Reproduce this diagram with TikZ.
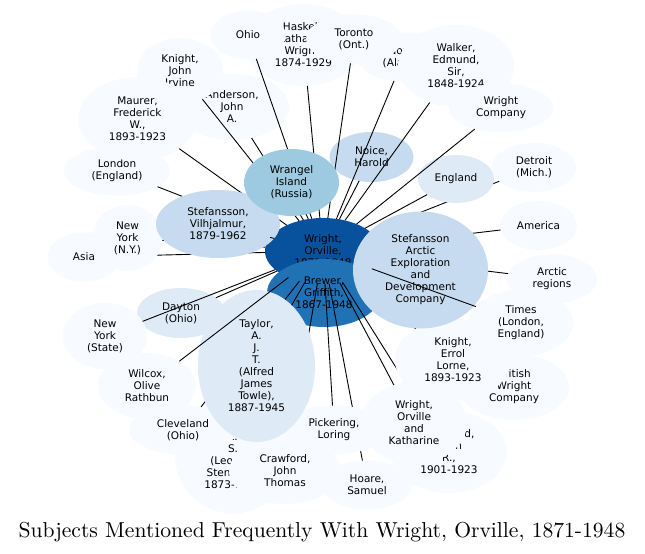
\documentclass[tikz,border=0pt]{standalone}
\usepackage{fontspec}
\newfontfamily\dvs{DejaVu Sans}
\usetikzlibrary{shapes.geometric}
\definecolor{bA}{HTML}{F7FBFF}
\definecolor{bB}{HTML}{DEEBF7}
\definecolor{bC}{HTML}{C6DBEF}
\definecolor{bD}{HTML}{9ECAE1}
\definecolor{bE}{HTML}{2171B5}
\definecolor{bF}{HTML}{08519C}
\tikzset{
 ell/.style={ellipse, draw=none, inner sep=0pt, outer sep=0pt},
 lbl/.style={align=center, inner sep=0pt, font=\dvs\fontsize{10.5}{12}\selectfont},
 edge/.style={draw=black, line width=0.9pt},
 ttl/.style={inner sep=0pt, font=\fontsize{10}{12}\selectfont},
}
\newcommand\sn[7]{%
 \node[ell, fill=#6, minimum width={2*#4*1pt}, minimum height={2*#5*1pt}] (#1) at (#2,#3) {};
 \node[lbl] (#1-t) at (#1.center) {#7};
}
\begin{document}
\begin{tikzpicture}[x=1pt,y=-1pt]
\fill[white] (0,0) rectangle (645,554);
\useasboundingbox (0,0) rectangle (645,554);
\sn{c}{323}{251}{58}{33}{bF}{Wright,\\Orville,\\1871-1948}
\sn{america}{538.5}{225.5}{38.5}{24.5}{bA}{America}
\draw[edge] (c) -- (america);
\sn{amery}{233}{455}{58}{58.5}{bA}{Amery,\\L.\\S.\\(Leopold\\Stennett),\\1873-1955}
\draw[edge] (c) -- (amery);
\sn{anderson}{232}{107}{57}{33}{bA}{Anderson,\\John\\A.}
\draw[edge] (c) -- (anderson);
\sn{arctic}{552}{279}{45}{24.5}{bA}{Arctic\\regions}
\draw[edge] (c) -- (arctic);
\sn{asia}{84}{257}{36.5}{24.5}{bA}{Asia}
\draw[edge] (c) -- (asia);
\sn{brewer}{324}{293}{57}{34}{bE}{Brewer,\\Griffith,\\1867-1948}
\sn{british}{514}{387}{55}{33}{bA}{British\\Wright\\Company}
\draw[edge] (c) -- (british);
\sn{cleveland}{183}{430}{54}{24.5}{bA}{Cleveland\\(Ohio)}
\draw[edge] (c) -- (cleveland);
\sn{crawfordA}{449}{452}{58}{41}{bA}{Crawford,\\Allan\\R.,\\1901-1923}
\draw[edge] (c) -- (crawfordA);
\sn{crawfordJ}{285}{471}{56}{33}{bA}{Crawford,\\John\\Thomas}
\draw[edge] (c) -- (crawfordJ);
\sn{dayton}{181}{313}{44}{25}{bB}{Dayton\\(Ohio)}
\draw[edge] (c) -- (dayton);
\sn{detroit}{534}{167.5}{42}{24.5}{bA}{Detroit\\(Mich.)}
\draw[edge] (c) -- (detroit);
\sn{england}{456}{179}{38}{24}{bB}{England}
\draw[edge] (c) -- (england);
\sn{haskell}{303.5}{45}{58}{41}{bA}{Haskell,\\Katharine\\Wright,\\1874-1929}
\draw[edge] (c) -- (haskell);
\sn{hoare}{367}{485}{45}{24.5}{bA}{Hoare,\\Samuel}
\draw[edge] (c) -- (hoare);
\sn{knightE}{453}{360}{58}{41}{bA}{Knight,\\Errol\\Lorne,\\1893-1923}
\draw[edge] (c) -- (knightE);
\sn{knightJ}{180}{71}{43}{33}{bA}{Knight,\\John\\Irvine}
\draw[edge] (c) -- (knightJ);
\sn{london}{117}{171}{53}{24.5}{bA}{London\\(England)}
\draw[edge] (c) -- (london);
\sn{maurer}{137.5}{119}{59}{42}{bA}{Maurer,\\Frederick\\W.,\\1893-1923}
\draw[edge] (c) -- (maurer);
\sn{nyc}{127.5}{238}{35}{33}{bA}{New\\York\\(N.Y.)}
\draw[edge] (c) -- (nyc);
\sn{nys}{105}{336}{42}{33}{bA}{New\\York\\(State)}
\draw[edge] (c) -- (nys);
\sn{noice}{371.5}{157}{42}{25}{bC}{Noice,\\Harold}
\draw[edge] (c) -- (noice);
\sn{nome}{404}{57}{47}{24.5}{bA}{Nome\\(Alaska)}
\draw[edge] (c) -- (nome);
\sn{ohio}{248}{35}{37.5}{24.5}{bA}{Ohio}
\draw[edge] (c) -- (ohio);
\sn{pickering}{334}{430}{53}{24.5}{bA}{Pickering,\\Loring}
\draw[edge] (c) -- (pickering);
\sn{saedc}{420.5}{270}{67.5}{58.5}{bC}{Stefansson\\Arctic\\Exploration\\and\\Development\\Company}
\sn{stefV}{218}{224}{62}{34}{bC}{Stefansson,\\Vilhjalmur,\\1879-1962}
\draw[edge] (c) -- (stefV);
\sn{taylor}{256.5}{366}{58.5}{76}{bB}{Taylor,\\A.\\J.\\T.\\(Alfred\\James\\Towle),\\1887-1945}
\draw[edge] (c) -- (taylor);
\sn{times}{521}{323}{52}{33}{bA}{Times\\(London,\\England)}
\draw[edge] (c) -- (times);
\sn{toronto}{354}{39}{48}{24.5}{bA}{Toronto\\(Ont.)}
\draw[edge] (c) -- (toronto);
\sn{walker}{456}{66}{58}{41}{bA}{Walker,\\Edmund,\\Sir,\\1848-1924}
\draw[edge] (c) -- (walker);
\sn{wilcox}{147}{386}{49}{33}{bA}{Wilcox,\\Olive\\Rathbun}
\draw[edge] (c) -- (wilcox);
\sn{wrangel}{291.5}{182.5}{47.5}{33.5}{bD}{Wrangel\\Island\\(Russia)}
\draw[edge] (c) -- (wrangel);
\sn{wcompany}{501}{108}{52}{24.5}{bA}{Wright\\Company}
\draw[edge] (c) -- (wcompany);
\sn{wok}{414}{423}{53}{41}{bA}{Wright,\\Orville\\and\\Katharine}
\draw[edge] (c) -- (wok);
\node[ttl] (title) at (322,532) {\scalebox{2.16}{Subjects Mentioned Frequently With Wright, Orville, 1871-1948}};
\end{tikzpicture}
\end{document}
